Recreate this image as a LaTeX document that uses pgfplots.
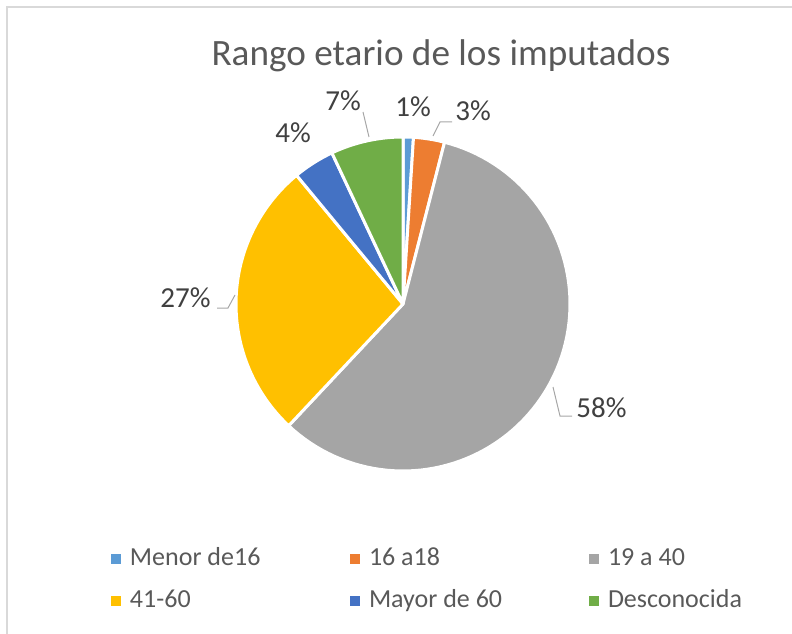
\documentclass[border=0pt]{standalone}
\usepackage{pgfplots}
\pgfplotsset{compat=1.18}
\usepackage{fontspec}
\setmainfont{Carlito}
\definecolor{cA}{HTML}{5B9BD5}
\definecolor{cB}{HTML}{ED7D31}
\definecolor{cC}{HTML}{A5A5A5}
\definecolor{cD}{HTML}{FFC000}
\definecolor{cE}{HTML}{4472C4}
\definecolor{cF}{HTML}{70AD47}
\definecolor{txt}{HTML}{595959}
\definecolor{lbl}{HTML}{404040}
\definecolor{leadc}{HTML}{A6A6A6}
\definecolor{framec}{HTML}{D9D9D9}
% pie centre (403,329), radius 167 in picture units
\newcommand\cum{0}
\newcommand\slice[2]{%
  \pgfmathsetmacro\sa{90-3.6*\cum}%
  \pgfmathsetmacro\ea{90-3.6*(\cum+#1)}%
  \edef\doit{\noexpand\addplot[fill=#2, draw=white, line width=1.5pt, line join=round, domain=\ea:\sa, samples=90] ({403+167*cos(x)},{329+167*sin(x)}) -- (axis cs:403,329) -- cycle;}%
  \doit
  \pgfmathsetmacro\newcum{\cum+#1}\global\let\cum\newcum
}
\begin{document}
\begin{tikzpicture}
\begin{axis}[name=ax, at={(0,0)}, anchor=origin, x=0.5pt, y=0.5pt,
  xmin=0, xmax=792, ymin=0, ymax=633, hide axis, clip=false,
  legend columns=3, legend cell align=left,
  legend image code/.code={\fill[#1,draw=none] (0pt,-2.5pt) rectangle (5pt,2.5pt);},
  legend style={draw=none, fill=none, at={(axis cs:111,53)}, anchor=west,
    inner sep=0pt, outer sep=0pt, font=\fontsize{13}{15}\selectfont, text=txt,
    column sep=0pt, row sep=8.6pt,
    nodes={inner sep=0pt, text height=9.5pt, text depth=3pt},
    /tikz/every odd column/.append style={column sep=4.5pt}},
]
\slice{1}{cA}\addlegendentry{\makebox[110pt][l]{Menor de16}}
\slice{3}{cB}\addlegendentry{\makebox[110pt][l]{16 a18}}
\slice{58}{cC}\addlegendentry{\makebox[110pt][l]{19 a 40}}
\slice{27}{cD}\addlegendentry{\makebox[110pt][l]{41-60}}
\slice{4}{cE}\addlegendentry{\makebox[110pt][l]{Mayor de 60}}
\slice{7}{cF}\addlegendentry{\makebox[110pt][l]{Desconocida}}
% frame
\draw[framec, line width=0.75pt] (axis cs:7,-10) -- (axis cs:7,626) -- (axis cs:800,626);
% title
\node[anchor=base, inner sep=0pt, font=\fontsize{18.6}{22}\selectfont, text=txt] at (axis cs:441,567) {Rango etario de los imputados};
% leader lines
\draw[leadc, line width=0.5pt] (axis cs:363,521) -- (axis cs:369,496);
\draw[leadc, line width=0.5pt] (axis cs:433,497) -- (axis cs:440,511) -- (axis cs:452,511);
\draw[leadc, line width=0.5pt] (axis cs:217,325) -- (axis cs:228,325) -- (axis cs:235,338);
\draw[leadc, line width=0.5pt] (axis cs:553,246) -- (axis cs:560,217) -- (axis cs:572,217);
% data labels
\begin{scope}[every node/.style={inner sep=0pt, font=\fontsize{14.5}{17}\selectfont, text=lbl}]
\node[anchor=base west] at (axis cs:325,522) {7\%};
\node[anchor=base west] at (axis cs:395,516) {1\%};
\node[anchor=base west] at (axis cs:455,512) {3\%};
\node[anchor=base west] at (axis cs:275,490) {4\%};
\node[anchor=base east] at (axis cs:211,326) {27\%};
\node[anchor=base west] at (axis cs:576,216) {58\%};
\end{scope}
\end{axis}
\pgfresetboundingbox
\path[use as bounding box] (0,0) rectangle (396pt,316.5pt);
\end{tikzpicture}
\end{document}
